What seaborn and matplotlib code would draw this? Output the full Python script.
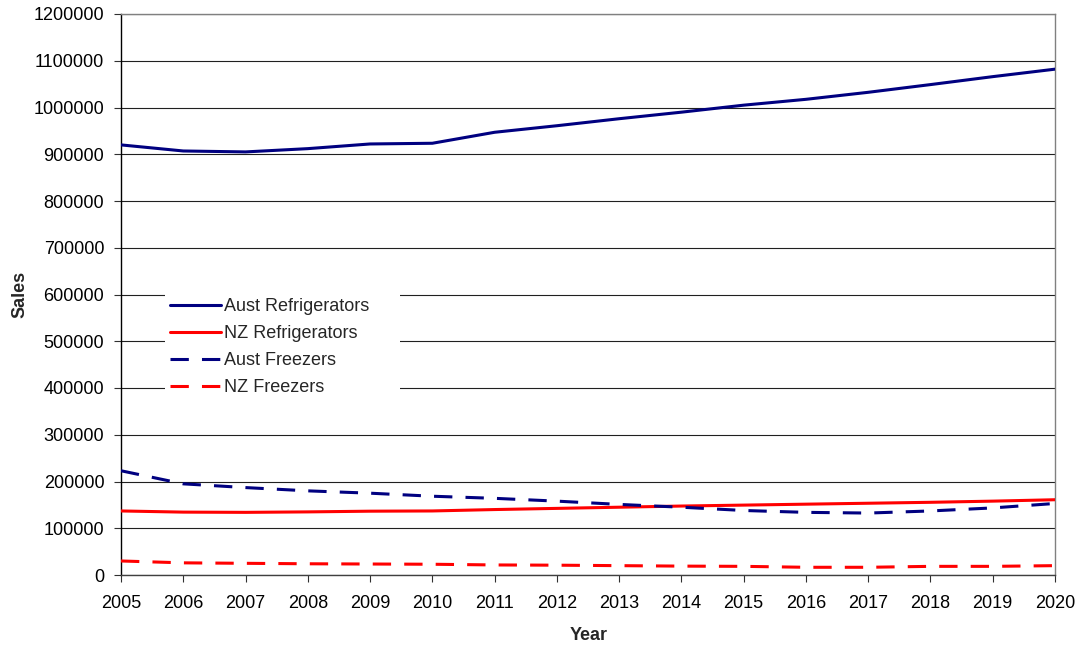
import matplotlib
matplotlib.use("Agg")
import matplotlib.pyplot as plt
import seaborn as sns
import pandas as pd
from matplotlib.ticker import FuncFormatter, MultipleLocator

years = list(range(2005, 2021))
aust_fridges = [920000, 907000, 905000, 912000, 922000, 923500, 947000, 961000,
                976000, 990000, 1005000, 1017500, 1032500, 1049000, 1066000, 1082000]
nz_fridges = [137000, 134500, 134000, 135000, 136500, 137000, 140000, 142500,
              145000, 147500, 149500, 151500, 153500, 155500, 158000, 161000]
aust_freezers = [223000, 195000, 187000, 180000, 175000, 168500, 164000, 158000,
                 151000, 145000, 138000, 134000, 132500, 137000, 143500, 153000]
nz_freezers = [30000, 26000, 25000, 24000, 23500, 23000, 21500, 21000,
               20000, 19000, 18500, 16500, 16500, 18500, 18500, 20000]

series_names = ["Aust Refrigerators", "NZ Refrigerators", "Aust Freezers", "NZ Freezers"]
series_values = [aust_fridges, nz_fridges, aust_freezers, nz_freezers]

df = pd.concat(
    [pd.DataFrame({"Year": years, "Sales": vals, "Series": name})
     for name, vals in zip(series_names, series_values)],
    ignore_index=True,
)

sns.set_theme(style="white")
plt.rcParams["font.family"] = ["Liberation Sans", "DejaVu Sans"]

fig = plt.figure(figsize=(10.79, 6.46), dpi=100)
ax = fig.add_axes([121 / 1079, 1 - 575 / 646, (1055 - 121) / 1079, (575 - 14) / 646])

palette = {"Aust Refrigerators": "#000080", "NZ Refrigerators": "#FF0000",
           "Aust Freezers": "#000080", "NZ Freezers": "#FF0000"}
dashes = {"Aust Refrigerators": "", "NZ Refrigerators": "",
          "Aust Freezers": (6.0, 4.3), "NZ Freezers": (6.0, 4.3)}

sns.lineplot(data=df, x="Year", y="Sales", hue="Series", style="Series",
             hue_order=series_names, style_order=series_names,
             palette=palette, dashes=dashes, linewidth=2.2, ax=ax, zorder=3)

ax.set_xlim(2005, 2020)
ax.set_ylim(0, 1200000)
ax.xaxis.set_major_locator(MultipleLocator(1))
ax.yaxis.set_major_locator(MultipleLocator(100000))
ax.xaxis.set_major_formatter(FuncFormatter(lambda v, p: f"{int(round(v))}"))
ax.yaxis.set_major_formatter(FuncFormatter(lambda v, p: f"{int(round(v))}"))

ax.yaxis.grid(True, color="#202020", linewidth=0.8)
ax.set_axisbelow(True)

for side in ["top", "right"]:
    ax.spines[side].set_color("#808080")
    ax.spines[side].set_linewidth(1.0)
ax.spines["left"].set_color("#000000")
ax.spines["bottom"].set_color("#404040")
for side in ["left", "bottom"]:
    ax.spines[side].set_linewidth(1.0)

ax.tick_params(axis="both", which="major", direction="out", length=5, width=0.8,
               color="#303030", labelsize=13, labelcolor="#000000",
               bottom=True, left=True)
ax.tick_params(axis="y", pad=7)
ax.tick_params(axis="x", pad=9.5)

ax.set_xlabel("Year", fontsize=13, fontweight="bold")
ax.set_ylabel("Sales", fontsize=13, fontweight="bold")
ax.xaxis.set_label_coords(0.5005, -0.0927)
ax.yaxis.set_label_coords(-0.0995, 0.5)

leg = ax.legend(loc="upper left", bbox_to_anchor=(0.047, 0.307, 0.252, 0.196),
                mode="expand", fontsize=13, frameon=True, fancybox=False,
                facecolor="white", edgecolor="none", framealpha=1.0,
                handlelength=2.8, handletextpad=0.2, labelspacing=0.55,
                borderpad=0.3, borderaxespad=0.0)
leg.set_zorder(4)
for line in leg.get_lines():
    line.set_linewidth(2.2)

fig.savefig("out.png", dpi=100, facecolor="white")
